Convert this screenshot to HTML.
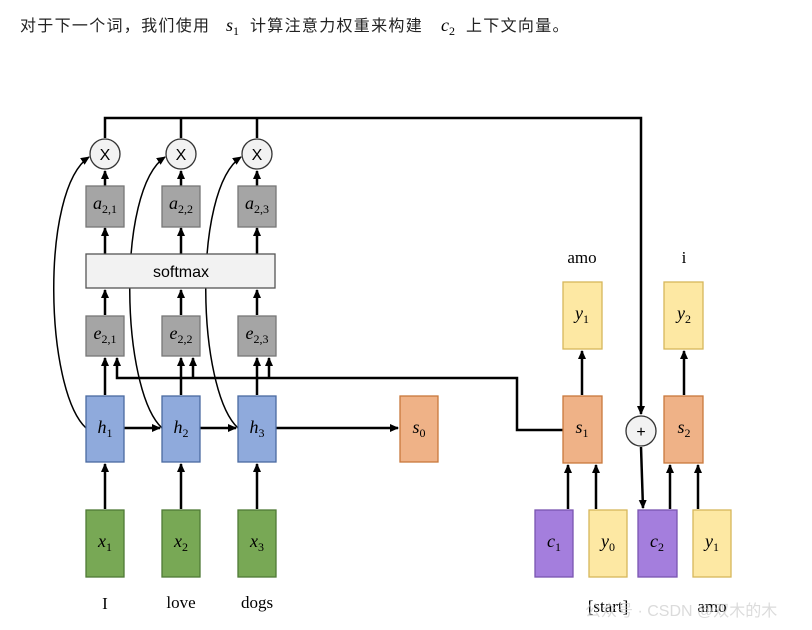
<!DOCTYPE html>
<html><head><meta charset="utf-8"><style>
body{margin:0;background:#fff;width:812px;height:630px;overflow:hidden}
svg{position:absolute;left:0;top:0}
.m{font-family:"Liberation Serif",serif;font-style:italic;font-size:18px}
.s{font-size:12px;font-style:normal}
.l{font-family:"Liberation Serif",serif;font-size:17px}
.t{font-family:"Liberation Sans","Noto Sans CJK SC",sans-serif;font-size:16px;fill:#222;letter-spacing:1.3px}
</style></head><body>
<svg width="812" height="630" viewBox="0 0 812 630">
<defs><marker id="a" markerWidth="9" markerHeight="9" refX="8" refY="4.5" orient="auto" markerUnits="userSpaceOnUse"><path d="M0,0.5 L9,4.5 L0,8.5z" fill="#000"/></marker></defs>
<text class="t" x="20" y="31">对于下一个词，我们使用</text>
<text class="m" x="226" y="31">s<tspan class="s" dy="4">1</tspan></text>
<text class="t" x="250" y="31">计算注意力权重来构建</text>
<text class="m" x="441" y="31">c<tspan class="s" dy="4">2</tspan></text>
<text class="t" x="466" y="31">上下文向量。</text>
<g stroke="#000" stroke-width="2.5" fill="none">
<path d="M105,138 V118 H641 V414" marker-end="url(#a)"/>
<path d="M181,138 V118 M257,138 V118"/>
<path d="M641,447 L643,508" marker-end="url(#a)"/>
<path d="M602,430 H517 V378 H117 V358" marker-end="url(#a)"/>
<path d="M193,378 V358" marker-end="url(#a)"/>
<path d="M269,378 V358" marker-end="url(#a)"/>
</g>
<g stroke="#000" stroke-width="2.5" fill="none" marker-end="url(#a)">
<path d="M105,509 V464"/><path d="M181,509 V464"/><path d="M257,509 V464"/>
<path d="M105,395 V358"/><path d="M181,395 V358"/><path d="M257,395 V358"/>
<path d="M105,315 V290"/><path d="M181,315 V290"/><path d="M257,315 V290"/>
<path d="M105,254 V228"/><path d="M181,254 V228"/><path d="M257,254 V228"/>
<path d="M105,186 V171"/><path d="M181,186 V171"/><path d="M257,186 V171"/>
<path d="M124,428 H160"/><path d="M200,428 H236"/><path d="M276,428 H398"/>
<path d="M582,395 V351"/><path d="M684,395 V351"/>
<path d="M568,509 V465"/><path d="M596,509 V465"/>
<path d="M670,509 V465"/><path d="M698,509 V465"/>
</g>
<g stroke="#000" stroke-width="1.5" fill="none" marker-end="url(#a)">
<path d="M86,428 C45,390 40,190 89,157"/>
<path d="M162,428 C121,390 116,190 165,157"/>
<path d="M238,428 C197,390 192,190 241,157"/>
</g>
<g stroke-width="1.3">
<rect x="86" y="510" width="38" height="67" fill="#78a855" stroke="#4f7a35"/>
<rect x="162" y="510" width="38" height="67" fill="#78a855" stroke="#4f7a35"/>
<rect x="238" y="510" width="38" height="67" fill="#78a855" stroke="#4f7a35"/>
<rect x="86" y="396" width="38" height="66" fill="#8faadc" stroke="#4a6aa0"/>
<rect x="162" y="396" width="38" height="66" fill="#8faadc" stroke="#4a6aa0"/>
<rect x="238" y="396" width="38" height="66" fill="#8faadc" stroke="#4a6aa0"/>
<rect x="86" y="316" width="38" height="40" fill="#a5a5a5" stroke="#777"/>
<rect x="162" y="316" width="38" height="40" fill="#a5a5a5" stroke="#777"/>
<rect x="238" y="316" width="38" height="40" fill="#a5a5a5" stroke="#777"/>
<rect x="86" y="186" width="38" height="41" fill="#a5a5a5" stroke="#777"/>
<rect x="162" y="186" width="38" height="41" fill="#a5a5a5" stroke="#777"/>
<rect x="238" y="186" width="38" height="41" fill="#a5a5a5" stroke="#777"/>
<rect x="86" y="254" width="189" height="34" fill="#f2f2f2" stroke="#555"/>
<rect x="400" y="396" width="38" height="66" fill="#efb287" stroke="#c8783c"/>
<rect x="563" y="396" width="39" height="67" fill="#efb287" stroke="#c8783c"/>
<rect x="664" y="396" width="39" height="67" fill="#efb287" stroke="#c8783c"/>
<rect x="563" y="282" width="39" height="67" fill="#fde8a3" stroke="#d6b65a"/>
<rect x="664" y="282" width="39" height="67" fill="#fde8a3" stroke="#d6b65a"/>
<rect x="535" y="510" width="38" height="67" fill="#a47edd" stroke="#7a55b0"/>
<rect x="589" y="510" width="38" height="67" fill="#fde8a3" stroke="#d6b65a"/>
<rect x="638" y="510" width="39" height="67" fill="#a47edd" stroke="#7a55b0"/>
<rect x="693" y="510" width="38" height="67" fill="#fde8a3" stroke="#d6b65a"/>
<circle cx="105" cy="154" r="15" fill="#f2f2f2" stroke="#333"/>
<circle cx="181" cy="154" r="15" fill="#f2f2f2" stroke="#333"/>
<circle cx="257" cy="154" r="15" fill="#f2f2f2" stroke="#333"/>
<circle cx="641" cy="431" r="15" fill="#f2f2f2" stroke="#333"/>
</g>
<g font-family="Liberation Sans,sans-serif" font-size="16" text-anchor="middle">
<text x="105" y="160">X</text><text x="181" y="160">X</text><text x="257" y="160">X</text>
<text x="641" y="437">+</text>
<text x="181" y="277" font-size="16">softmax</text>
</g>
<g text-anchor="middle">
<text class="m" x="105" y="547">x<tspan class="s" dy="4">1</tspan></text>
<text class="m" x="181" y="547">x<tspan class="s" dy="4">2</tspan></text>
<text class="m" x="257" y="547">x<tspan class="s" dy="4">3</tspan></text>
<text class="m" x="105" y="433">h<tspan class="s" dy="4">1</tspan></text>
<text class="m" x="181" y="433">h<tspan class="s" dy="4">2</tspan></text>
<text class="m" x="257" y="433">h<tspan class="s" dy="4">3</tspan></text>
<text class="m" x="105" y="339">e<tspan class="s" dy="4">2,1</tspan></text>
<text class="m" x="181" y="339">e<tspan class="s" dy="4">2,2</tspan></text>
<text class="m" x="257" y="339">e<tspan class="s" dy="4">2,3</tspan></text>
<text class="m" x="105" y="209">a<tspan class="s" dy="4">2,1</tspan></text>
<text class="m" x="181" y="209">a<tspan class="s" dy="4">2,2</tspan></text>
<text class="m" x="257" y="209">a<tspan class="s" dy="4">2,3</tspan></text>
<text class="m" x="419" y="433">s<tspan class="s" dy="4">0</tspan></text>
<text class="m" x="582" y="433">s<tspan class="s" dy="4">1</tspan></text>
<text class="m" x="684" y="433">s<tspan class="s" dy="4">2</tspan></text>
<text class="m" x="582" y="319">y<tspan class="s" dy="4">1</tspan></text>
<text class="m" x="684" y="319">y<tspan class="s" dy="4">2</tspan></text>
<text class="m" x="554" y="547">c<tspan class="s" dy="4">1</tspan></text>
<text class="m" x="608" y="547">y<tspan class="s" dy="4">0</tspan></text>
<text class="m" x="657" y="547">c<tspan class="s" dy="4">2</tspan></text>
<text class="m" x="712" y="547">y<tspan class="s" dy="4">1</tspan></text>
<text class="l" x="105" y="609">I</text>
<text class="l" x="181" y="608">love</text>
<text class="l" x="257" y="608">dogs</text>
<text class="l" x="582" y="263">amo</text>
<text class="l" x="684" y="263">i</text>
<text class="l" x="608" y="612">[start]</text>
<text class="l" x="712" y="612">amo</text>
</g>
<text x="585" y="616" font-family="Liberation Sans,Noto Sans CJK SC,sans-serif" font-size="16" fill="#ccc" opacity="0.7">公众号 · CSDN @双木的木</text>
</svg>
</body></html>
